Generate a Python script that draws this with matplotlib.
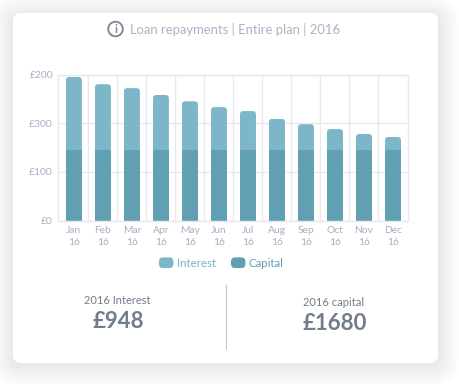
import matplotlib
matplotlib.use("Agg")
import matplotlib.pyplot as plt
from matplotlib.patches import FancyBboxPatch, Circle
from matplotlib.legend_handler import HandlerPatch
from matplotlib.transforms import IdentityTransform

months = ["Jan", "Feb", "Mar", "Apr", "May", "Jun", "Jul", "Aug", "Sep", "Oct", "Nov", "Dec"]
year_label = "16"
capital = [145] * 12
interest = [150, 135, 127, 113, 100, 88, 80, 64, 53, 43, 33, 27]
y_ticks = [0, 100, 200, 300]
y_tick_labels = ["£0", "£100", "£300", "£200"]
title = "Loan repayments | Entire plan | 2016"
stat_labels = ["2016 Interest", "2016 capital"]
stat_values = ["£948", "£1680"]

W, H = 459, 384
plt.rcParams["font.family"] = "Lato"
C_INT, C_CAP = "#7DB6C8", "#61A0B3"
C_TICK, C_GRID = "#A6B0C2", "#E6EAF0"
C_STAT = "#737C8C"

fig = plt.figure(figsize=(W / 100, H / 100), dpi=100, facecolor="white")

# background layer in pixel coordinates
bg = fig.add_axes([0, 0, 1, 1], zorder=0)
bg.set_xlim(0, W)
bg.set_ylim(H, 0)
bg.axis("off")


def card(x0, y0, x1, y1, r, **kw):
    p = FancyBboxPatch((x0 + r, y0 + r), x1 - x0 - 2 * r, y1 - y0 - 2 * r,
                       boxstyle=f"round,pad={r},rounding_size={r}", linewidth=0, **kw)
    bg.add_patch(p)


for s in range(22, 0, -1):
    card(13 - s, 15 - s + 2, 438 + s, 363 + s + 2, 8 + s, facecolor="black", alpha=0.0042)
card(13, 13, 438, 363, 8, facecolor="white")

# info icon and title
bg.add_patch(Circle((115.5, 29), 7.3, facecolor="none", edgecolor="#7C8594", linewidth=1.3))
bg.text(115.5, 29.2, "i", ha="center", va="center", fontsize=8.5, color="#7C8594", fontweight="bold")
bg.text(130, 29, title, ha="left", va="center", fontsize=9.35, color="#A9B3C3")

# statistics
bg.plot([225.5, 225.5], [285, 349], color="#C7CACF", linewidth=0.9)
bg.text(117, 300, stat_labels[0], ha="center", va="center", fontsize=8, color=C_STAT)
bg.text(118, 322, stat_values[0], ha="center", va="center", fontsize=16, color=C_STAT, fontweight="bold")
bg.text(334, 302, stat_labels[1], ha="center", va="center", fontsize=8, color=C_STAT)
bg.text(335, 324, stat_values[1], ha="center", va="center", fontsize=16, color=C_STAT, fontweight="bold")

# chart
L, R, T, B = 58.5, 407.5, 74.5, 220.7
ax = fig.add_axes([L / W, 1 - B / H, (R - L) / W, (B - T) / H], zorder=1)
ax.patch.set_alpha(0)
x = list(range(len(months)))
ax.set_xlim(-0.53, 11.5)
ax.set_ylim(0, 300)
for s in ax.spines.values():
    s.set_color(C_GRID)
    s.set_linewidth(1)
ax.set_yticks(y_ticks, y_tick_labels)
ax.set_xticks(x, [f"{m}\n{year_label}" for m in months], linespacing=1.45)
ax.tick_params(length=0, labelsize=7.4, labelcolor=C_TICK)
ax.tick_params(axis="x", pad=4)
ax.tick_params(axis="y", pad=4)
ax.set_axisbelow(True)
ax.grid(axis="y", color=C_GRID, linewidth=1)
for i in x[:-1]:
    ax.axvline(i + 0.47, color=C_GRID, linewidth=1, zorder=0.5)

bars_cap = ax.bar(x, capital, width=16 / 29, color=C_CAP, linewidth=0, label="Capital", zorder=2)
bars_int = ax.bar(x, interest, bottom=capital, width=16 / 29, color=C_INT, linewidth=0,
                  label="Interest", zorder=2)

# rounded top corners of the stacked bars
fig.canvas.draw()
renderer = fig.canvas.get_renderer()
for bar in bars_int:
    e = bar.get_window_extent(renderer)
    r = 3.5
    clip = FancyBboxPatch((e.x0 + r, e.y0 - 20), e.width - 2 * r, e.height + 20 - r,
                          boxstyle=f"round,pad={r},rounding_size={r}", transform=IdentityTransform())
    bar.set_clip_path(clip.get_path(), clip.get_transform())


class RoundHandler(HandlerPatch):
    def create_artists(self, legend, orig, xd, yd, width, height, fontsize, trans):
        p = FancyBboxPatch((-xd + 2, -yd + 2), width - 4, height - 4,
                           boxstyle="round,pad=2,rounding_size=3", linewidth=0,
                           facecolor=orig.get_facecolor(), transform=trans)
        return [p]


handler = RoundHandler()
leg = ax.legend([bars_int[0], bars_cap[0]], ["Interest", "Capital"],
                handler_map={bars_int[0]: handler, bars_cap[0]: handler},
                loc="center left", bbox_to_anchor=((159 - L) / (R - L), (B - 263) / (B - T)),
                bbox_transform=ax.transAxes, ncol=2, frameon=False, fontsize=8.3,
                handlelength=1.25, handleheight=1.05, handletextpad=0.3, columnspacing=1.3,
                borderpad=0, borderaxespad=0, labelcolor=["#76B5C6", "#5F9FB3"])

fig.savefig("out.png", dpi=100)
